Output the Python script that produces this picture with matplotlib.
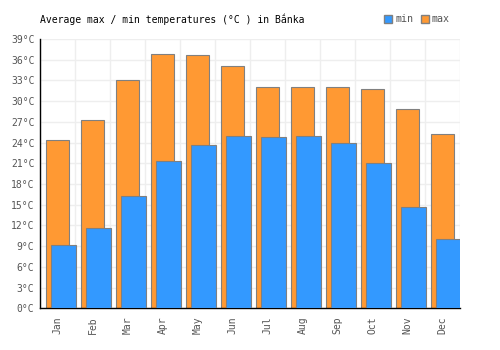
import numpy as np
import matplotlib.pyplot as plt
from matplotlib.patches import Patch

months = ['Jan', 'Feb', 'Mar', 'Apr', 'May', 'Jun', 'Jul', 'Aug', 'Sep', 'Oct', 'Nov', 'Dec']
t_max = [24.3, 27.2, 33.0, 36.8, 36.6, 35.0, 32.1, 32.0, 32.1, 31.7, 28.8, 25.3]
t_min = [9.1, 11.6, 16.2, 21.3, 23.6, 24.9, 24.8, 24.9, 23.9, 21.1, 14.7, 10.0]
y_ticks = list(range(0, 40, 3))

plt.rcParams['font.family'] = ['DejaVu Sans Mono', 'DejaVu Sans', 'Noto Sans']

fig = plt.figure(figsize=(5, 3.5), dpi=100)
ax = fig.add_axes([0.08, 0.119, 0.84, 0.770])

x = np.arange(len(months))
edge = '#808080'
ax.bar(x, t_max, width=0.66, color='#ff9933', edgecolor=edge, linewidth=0.8, zorder=2)
ax.bar(x + 0.17, t_min, width=0.71, color='#3399ff', edgecolor=edge, linewidth=0.8, zorder=3)

ax.set_xlim(-0.5, 11.5)
ax.set_ylim(0, 39)
ax.set_yticks(y_ticks)
ax.set_yticklabels([f'{v}°C' for v in y_ticks])
ax.set_xticks(x)
ax.set_xticklabels(months, rotation=90)
ax.set_xticks(np.arange(-0.5, 12, 1), minor=True)
ax.grid(False)
ax.grid(True, which='minor', axis='x', color='#eeeeee', linewidth=1, zorder=0)
ax.grid(True, which='major', axis='y', color='#eeeeee', linewidth=1, zorder=0)
ax.set_axisbelow(True)
ax.tick_params(axis='both', which='both', length=0, labelsize=7, colors='#555555', pad=4)
ax.tick_params(axis='x', pad=6)

for side in ['top', 'right']:
    ax.spines[side].set_visible(False)
for side in ['left', 'bottom']:
    ax.spines[side].set_color('black')
    ax.spines[side].set_linewidth(1)

fig.text(0.08, 0.945, 'Average max / min temperatures (°C ) in Bắnka',
         fontsize=7, color='black', va='center', ha='left')

handles = [Patch(facecolor='#3399ff', edgecolor=edge, label='min'),
           Patch(facecolor='#ff9933', edgecolor=edge, label='max')]
fig.legend(handles=handles, loc='center right', bbox_to_anchor=(0.91, 0.945), ncol=2,
           frameon=False, fontsize=7.2, labelcolor='#555555', handlelength=0.8,
           handleheight=0.8, handletextpad=0.3, columnspacing=0.8, borderpad=0)

fig.savefig('out.png', dpi=100)
